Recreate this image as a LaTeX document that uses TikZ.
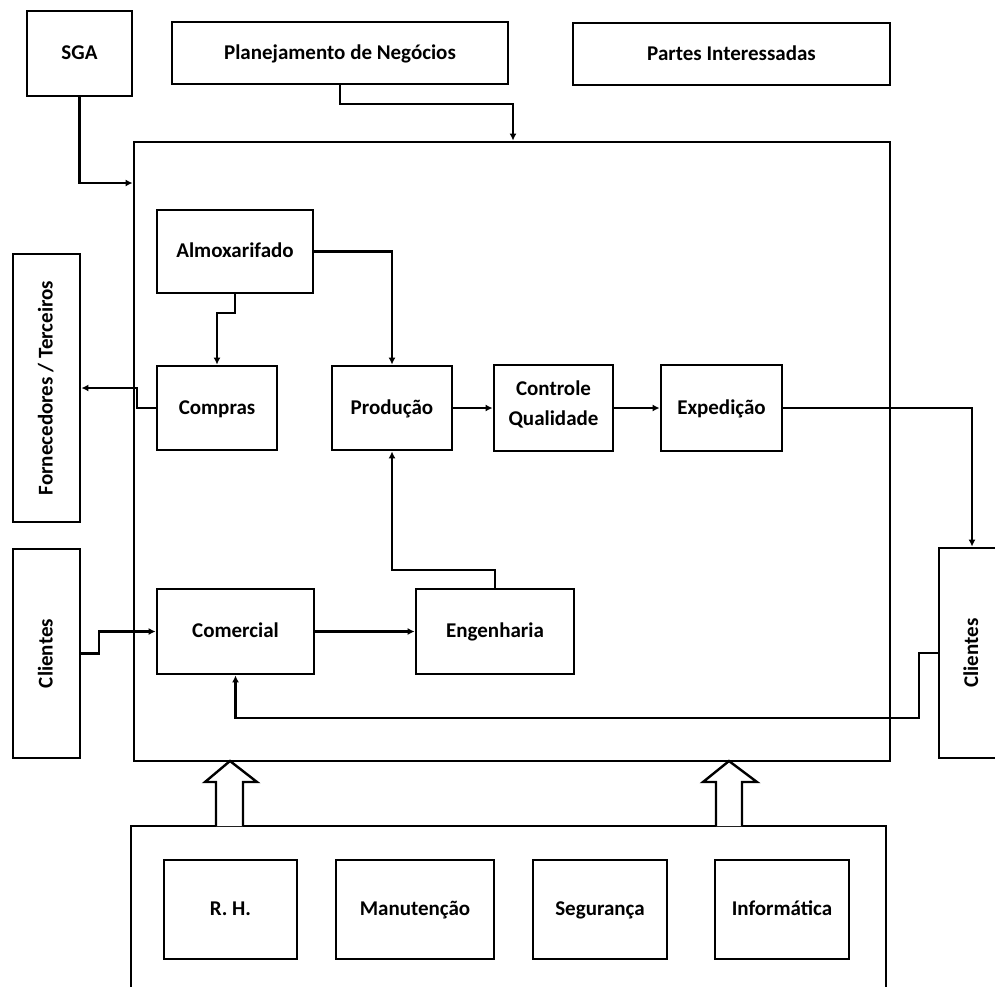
\documentclass[tikz,border=0pt]{standalone}
\usepackage{fontspec}
\setmainfont{Carlito}
\usetikzlibrary{arrows.meta}
\begin{document}
\begin{tikzpicture}[x=1pt,y=-1pt,
  lbl/.style={font=\fontsize{21}{30}\selectfont\bfseries},
  box/.style={draw=black,line width=2.8pt,rectangle,inner sep=0pt,align=center,lbl,
    execute at begin node=\strut,execute at end node=\strut},
  arr/.style={draw=black,line width=2.6pt,-{Latex[length=7pt,width=7pt]}},
  blk/.style={draw=black,line width=2.4pt,fill=white,line join=miter}]
\useasboundingbox (0,0) rectangle (995,986);
\fill[white] (0,0) rectangle (995,986);
% top boxes
\node[box,minimum width=105pt,minimum height=85pt] (sga) at (79.5,53.5) {SGA};
\node[box,minimum width=336pt,minimum height=62pt] (plan) at (340,53) {Planejamento de Negócios};
\node[box,minimum width=317pt,minimum height=62pt] (partes) at (731.5,54) {Partes Interessadas};
% main frame
\node[box,minimum width=756pt,minimum height=619pt] (main) at (512,451.5) {};
% left side
\node[box,minimum width=67pt,minimum height=268pt] (forn) at (46.5,388) {};
\node[rotate=90,lbl] (fornt) at (forn.center) {\strut Fornecedores / Terceiros\strut};
\node[box,minimum width=67pt,minimum height=209pt] (clil) at (46.5,653.5) {};
\node[rotate=90,lbl] (cliltxt) at (clil.center) {\strut Clientes\strut};
% right side
\node[box,minimum width=66pt,minimum height=210pt] (clir) at (972,653) {};
\node[rotate=90,lbl] (clirtxt) at (clir.center) {\strut Clientes\strut};
% inner boxes
\node[box,minimum width=156pt,minimum height=83pt] (almox) at (235,251.5) {Almoxarifado};
\node[box,minimum width=120pt,minimum height=84pt] (compras) at (217,408) {Compras};
\node[box,minimum width=120pt,minimum height=84pt] (prod) at (392,408) {Produção};
\node[box,minimum width=119pt,minimum height=86pt] (cq) at (553.5,408) {Controle\\Qualidade};
\node[box,minimum width=121pt,minimum height=86pt] (exp) at (721.5,408) {Expedição};
\node[box,minimum width=157pt,minimum height=85pt] (com) at (235.5,631.5) {Comercial};
\node[box,minimum width=158pt,minimum height=85pt] (eng) at (495,631.5) {Engenharia};
% bottom
\node[box,minimum width=755pt,minimum height=180pt] (bot) at (508.5,916) {};
\node[box,minimum width=133pt,minimum height=99pt] (rh) at (230.5,909.5) {R. H.};
\node[box,minimum width=158pt,minimum height=99pt] (man) at (415,909.5) {Manutenção};
\node[box,minimum width=134pt,minimum height=99pt] (seg) at (600,909.5) {Segurança};
\node[box,minimum width=134pt,minimum height=99pt] (inf) at (782,909.5) {Informática};
% connectors
\coordinate (sgaIn) at (main.west |- 0,183);
\draw[arr] (sga.south) |- (sgaIn);
\coordinate (planIn) at (main.north -| 513,0);
\draw[arr] (plan.south) |- (513,104) -- (planIn);
\draw[arr] (almox.south) -- (235,313) -- (217,313) -- (compras.north);
\draw[arr] (almox.east) -| (prod.north);
\draw[arr] (compras.west) -- (137,408) -- (137,388) -- (forn.east);
\draw[arr] (prod.east) -- (cq.west);
\draw[arr] (cq.east) -- (exp.west);
\draw[arr] (exp.east) -| (clir.north);
\draw[arr] (clil.east) -- (99,653.5) -- (99,631.5) -- (com.west);
\draw[arr] (com.east) -- (eng.west);
\draw[arr] (eng.north) -- (495,570) -- (392,570) -- (prod.south);
\draw[arr] (clir.west) -- (919,653) -- (919,718) -- (235.5,718) -- (com.south);
% block arrows
\draw[blk] (216,826) -- (216,782) -- (205,782) -- (230,761) -- (257,782) -- (243,782) -- (243,826);
\draw[blk] (716,826) -- (716,782) -- (703,782) -- (729,761) -- (757,782) -- (742,782) -- (742,826);
\end{tikzpicture}
\end{document}
